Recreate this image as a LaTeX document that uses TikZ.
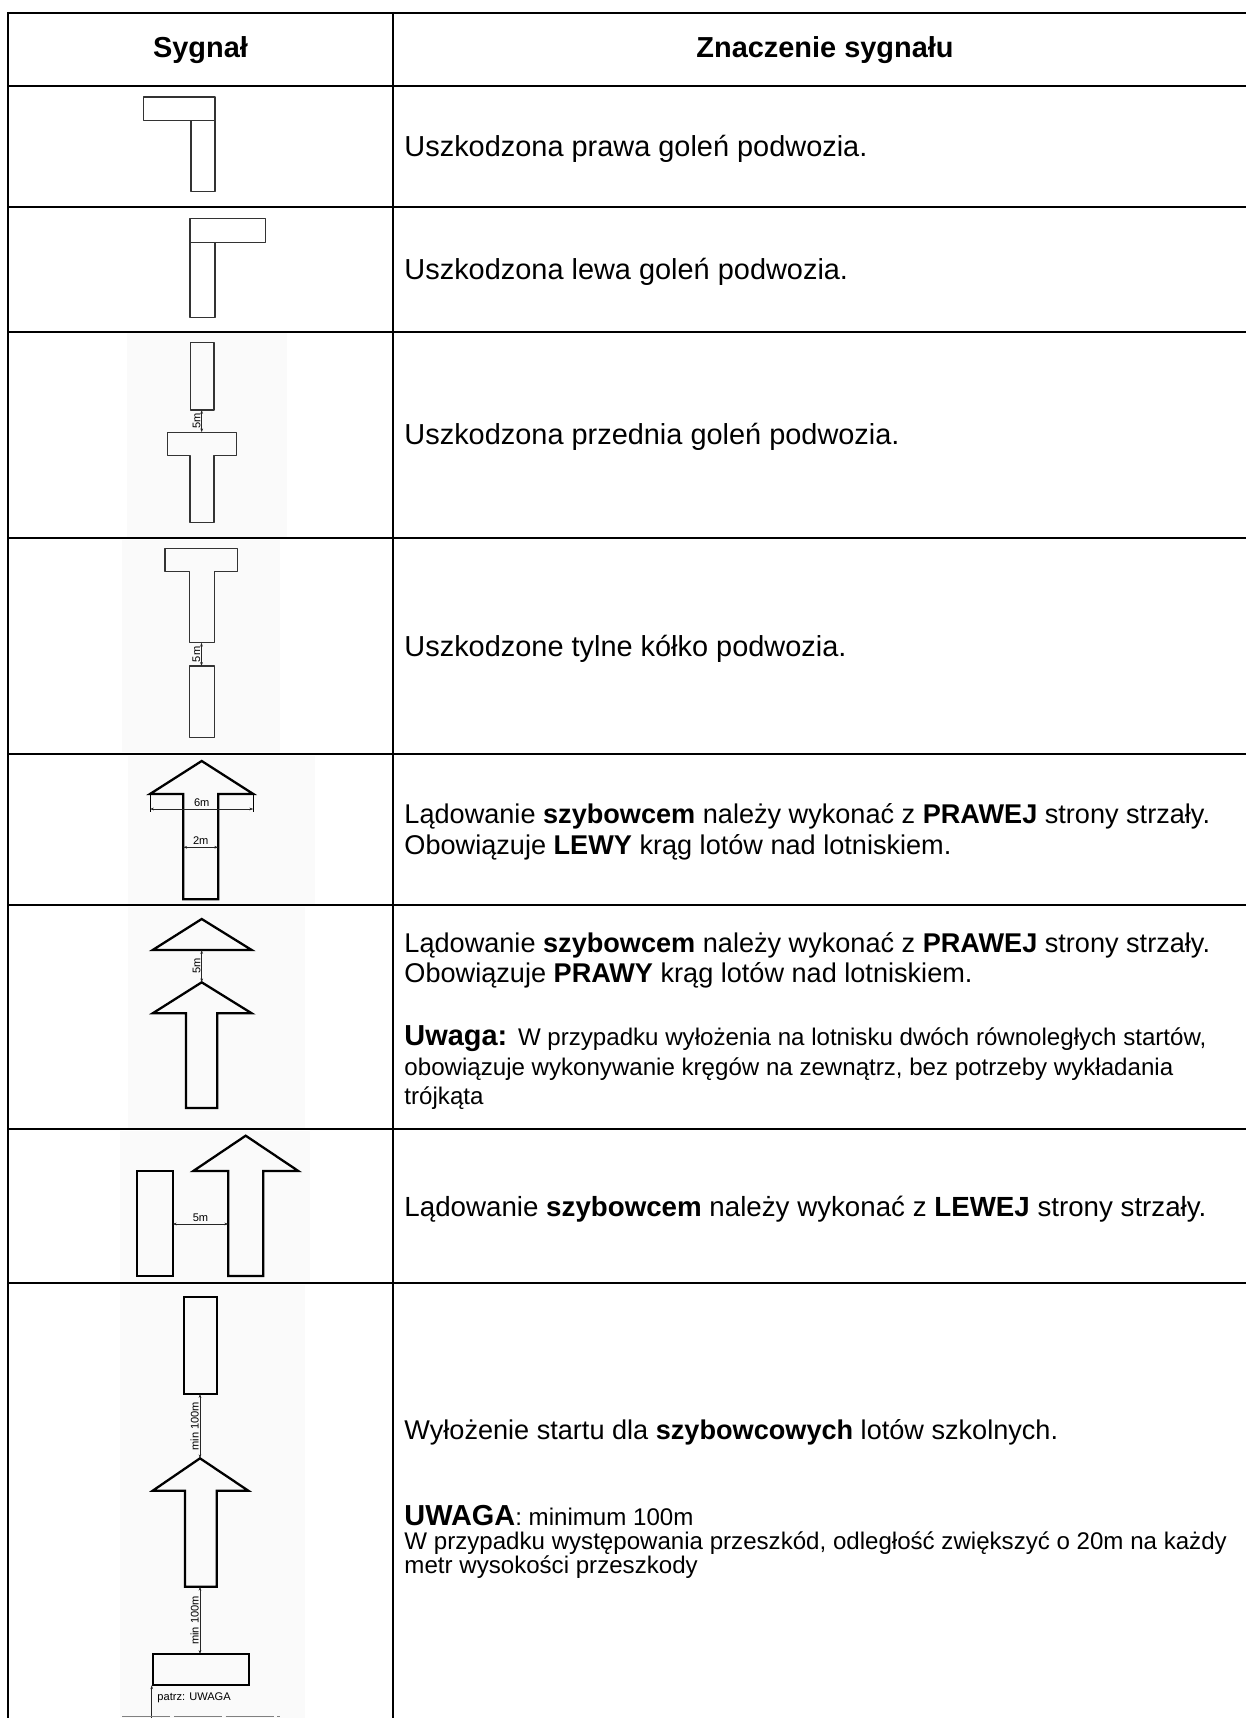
\documentclass[tikz,border=0pt]{standalone}
\usepackage{fontspec}
\setmainfont{Liberation Sans}
\usetikzlibrary{arrows.meta}
\begin{document}
\begin{tikzpicture}[x=0.415pt,y=-0.415pt,
  gridline/.style={line width=1.05pt, black},
  thinshape/.style={line width=0.5pt, draw=black!80, line join=round},
  thickshape/.style={line width=0.95pt, draw=black, line join=miter},
  dimline/.style={line width=0.3pt, draw=black!85, {Stealth[length=1.6pt,width=1.1pt]}-{Stealth[length=1.6pt,width=1.1pt]}},
  dimlab/.style={font=\fontsize{4.6}{5}\selectfont, inner sep=0.4pt},
  body/.style={anchor=base west, inner sep=0pt, font=\fontsize{12}{14}\selectfont},
  bodyb/.style={anchor=base west, inner sep=0pt, font=\fontsize{11.25}{13}\selectfont},
  bodyc/.style={anchor=base west, inner sep=0pt, font=\fontsize{11.5}{13}\selectfont},
  smalltext/.style={anchor=base west, inner sep=0pt, font=\fontsize{10}{12}\selectfont},
  headtext/.style={font=\fontsize{12}{14}\selectfont\bfseries, inner sep=0pt},
  imgbg/.style={fill=black!2, draw=none}
]
\useasboundingbox (0,0) rectangle (1246,1718);
\fill[white] (0,0) rectangle (1246,1718);

% faint image backgrounds
\fill[imgbg] (127,333) rectangle (287,537);
\fill[imgbg] (122,540) rectangle (280,752);
\fill[imgbg] (128,756) rectangle (315,904);
\fill[imgbg] (128,907) rectangle (305,1128);
\fill[imgbg] (120,1131) rectangle (310,1282);
\fill[imgbg] (120,1285) rectangle (305,1718);

% table grid
\foreach \yy in {13,86,207,332,538,754,905,1129,1283}
  \draw[gridline] (8,\yy) -- (1246,\yy);
\draw[gridline] (8,12) -- (8,1718);
\draw[gridline] (393,12) -- (393,1718);

% header
\node[headtext] (h1) at (200.5,50) {Sygnał};
\node[headtext] (h2) at (825,50) {Znaczenie sygnału};

% row texts
\node[body] (t1) at (404,157) {Uszkodzona prawa goleń podwozia.};
\node[body] (t2) at (404,280) {Uszkodzona lewa goleń podwozia.};
\node[body] (t3) at (404,445) {Uszkodzona przednia goleń podwozia.};
\node[body] (t4) at (404,656) {Uszkodzone tylne kółko podwozia.};
\node[bodyb] (t5a) at (404,823) {Lądowanie \textbf{szybowcem} należy wykonać z \textbf{PRAWEJ} strony strzały.};
\node[bodyb] (t5b) at (404,854) {Obowiązuje \textbf{LEWY} krąg lotów nad lotniskiem.};
\node[bodyb] (t6a) at (404,952) {Lądowanie \textbf{szybowcem} należy wykonać z \textbf{PRAWEJ} strony strzały.};
\node[bodyb] (t6b) at (404,982) {Obowiązuje \textbf{PRAWY} krąg lotów nad lotniskiem.};
\node[body] (t6c) at (404,1045) {\textbf{Uwaga:} {\fontsize{10}{12}\selectfont W przypadku wyłożenia na lotnisku dwóch równoległych startów,}};
\node[smalltext] (t6d) at (404,1075) {obowiązuje wykonywanie kręgów na zewnątrz, bez potrzeby wykładania};
\node[smalltext] (t6e) at (404,1104) {trójkąta};
\node[bodyc] (t7) at (404,1216) {Lądowanie \textbf{szybowcem} należy wykonać z \textbf{LEWEJ} strony strzały.};
\node[bodyb] (t8a) at (404,1439) {Wyłożenie startu dla \textbf{szybowcowych} lotów szkolnych.};
\node[body] (t8b) at (404,1525) {\textbf{UWAGA}{\fontsize{10}{12}\selectfont: minimum 100m}};
\node[smalltext] (t8c) at (404,1549) {W przypadku występowania przeszkód, odległość zwiększyć o 20m na każdy};
\node[smalltext] (t8d) at (404,1573) {metr wysokości przeszkody};

% row 1: right gear
\draw[thinshape] (143.3,97) rectangle (215,120.7);
\draw[thinshape] (191,120.7) rectangle (215,191.7);

% row 2: left gear
\draw[thinshape] (190,218.3) rectangle (265.7,242.7);
\draw[thinshape] (190,242.7) rectangle (215,317.3);

% row 3: nose gear
\draw[thinshape] (190.7,342.3) rectangle (214,410);
\draw[thinshape] (167.3,432.3) -- (236.7,432.3) -- (236.7,455.7) -- (214,455.7) -- (214,522.7)
  -- (190,522.7) -- (190,455.7) -- (167.3,455.7) -- cycle;
\coordinate (d3a) at (201.7,410);
\coordinate (d3b) at (201.7,432.3);
\draw[dimline] (d3a) -- (d3b) node[dimlab, midway, rotate=90, anchor=south] (l3) {5m};

% row 4: tail wheel
\draw[thinshape] (165,548.3) -- (237.7,548.3) -- (237.7,571.7) -- (214.3,571.7) -- (214.3,642.7)
  -- (189.3,642.7) -- (189.3,571.7) -- (165,571.7) -- cycle;
\draw[thinshape] (189.3,666) rectangle (214.3,737.3);
\coordinate (d4a) at (201.5,642.7);
\coordinate (d4b) at (201.5,666);
\draw[dimline] (d4a) -- (d4b) node[dimlab, midway, rotate=90, anchor=south] (l4) {5m};

% row 5: arrow with dimensions
\draw[thickshape] (201.7,761) -- (150,794) -- (183.3,794) -- (183.3,899.3) -- (218.3,899.3)
  -- (218.3,794) -- (253.3,794) -- cycle;
\draw[line width=0.3pt] (150,794) -- (150,812) (253.3,794) -- (253.3,812);
\coordinate (d5a) at (150,809);
\coordinate (d5b) at (253.3,809);
\draw[dimline] (d5a) -- (d5b);
\node[dimlab, anchor=south] (l5a) at (201.7,808) {6m};
\coordinate (d5c) at (183.3,847.3);
\coordinate (d5d) at (218.3,847.3);
\draw[dimline] (d5c) -- (d5d);
\node[dimlab, anchor=south] (l5b) at (200.7,846.3) {2m};

% row 6: triangle and arrow
\draw[thickshape] (201.7,919) -- (152.7,950) -- (251.7,950) -- cycle;
\draw[thickshape] (201.7,982.3) -- (152.7,1013.3) -- (186,1013.3) -- (186,1108) -- (217.3,1108)
  -- (217.3,1013.3) -- (251.7,1013.3) -- cycle;
\coordinate (d6a) at (201.7,950);
\coordinate (d6b) at (201.7,982.3);
\draw[dimline] (d6a) -- (d6b) node[dimlab, midway, rotate=90, anchor=south] (l6) {5m};

% row 7: panel and arrow
\draw[thickshape] (136.7,1171) rectangle (172.7,1276);
\draw[thickshape] (245.7,1135.7) -- (193.3,1171) -- (228.3,1171) -- (228.3,1276) -- (263.3,1276)
  -- (263.3,1171) -- (298.3,1171) -- cycle;
\coordinate (d7a) at (172.7,1224);
\coordinate (d7b) at (228.3,1224);
\draw[dimline] (d7a) -- (d7b);
\node[dimlab, anchor=south] (l7) at (200.5,1223) {5m};

% row 8: training start layout
\draw[thickshape] (184,1297.3) rectangle (216.7,1394);
\coordinate (d8a) at (200,1394);
\coordinate (d8b) at (200,1458.3);
\draw[dimline] (d8a) -- (d8b) node[dimlab, midway, rotate=90, anchor=south] (l8a) {min 100m};
\draw[thickshape] (200,1458.3) -- (152.7,1490.7) -- (185,1490.7) -- (185,1586.7) -- (216.7,1586.7)
  -- (216.7,1490.7) -- (248.3,1490.7) -- cycle;
\coordinate (d8c) at (200,1586.7);
\coordinate (d8d) at (200,1654);
\draw[dimline] (d8c) -- (d8d) node[dimlab, midway, rotate=90, anchor=south] (l8b) {min 100m};
\draw[thickshape] (152.7,1654) rectangle (249,1685.3);
\coordinate (d8e) at (151.7,1685.3);
\coordinate (d8f) at (151.7,1718);
\draw[line width=0.3pt, draw=black!85, {Stealth[length=1.6pt,width=1.1pt]}-] (d8e) -- (d8f);
\node[dimlab, anchor=west] (l8c) at (156,1698) {patrz: UWAGA};
\draw[line width=0.4pt, draw=black!50, dash pattern=on 20pt off 1.5pt] (122,1716.8) -- (280,1716.8);
\end{tikzpicture}
\end{document}
